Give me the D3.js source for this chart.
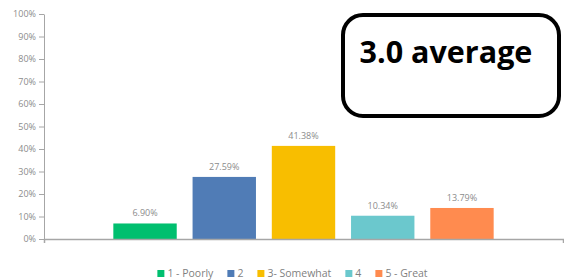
<!DOCTYPE html>
<html>
<head>
<meta charset="utf-8">
<script src="https://cdn.jsdelivr.net/npm/d3@7"></script>
<style>
  body { margin: 0; background: #fff; }
  svg { display: block; }
</style>
</head>
<body>
<svg id="chart" width="564" height="280"></svg>
<script>
const width = 564;
const height = 280;

const categories = ["1 - Poorly", "2", "3- Somewhat", "4", "5 - Great"];
const values = [0.069, 0.2759, 0.4138, 0.1034, 0.1379];
const colors = ["#00bf6f", "#507cb6", "#f8be00", "#6bc8cd", "#ff8b4f"];
const yTicks = [0, 0.1, 0.2, 0.3, 0.4, 0.5, 0.6, 0.7, 0.8, 0.9, 1];
const averageLabel = "3.0 average";

const svg = d3.select("#chart");
const margin = {left: 44, right: 1, top: 14, bottom: 41};

const y = d3.scaleLinear().domain([0, 1]).range([height - margin.bottom, margin.top]);

// one group, five series clustered in the middle (excel style)
const x0 = d3.scaleBand().domain(["all"])
    .range([margin.left, width - margin.right])
    .paddingInner(0).paddingOuter(0.155);
const x1 = d3.scaleBand().domain(categories)
    .range([0, x0.bandwidth()])
    .paddingInner(0.2).paddingOuter(0.1);
const color = d3.scaleOrdinal().domain(categories).range(colors);

const yAxis = svg.append("g")
    .attr("transform", "translate(" + margin.left + ",0)")
    .call(d3.axisLeft(y).tickValues(yTicks).tickFormat(d3.format(".0%"))
        .tickSize(5).tickSizeOuter(0).tickPadding(3));
yAxis.select(".domain").attr("stroke", "#a6a6a6");
yAxis.selectAll(".tick line").attr("stroke", "#a6a6a6");
yAxis.selectAll(".tick text")
    .attr("fill", "#8c8c8c")
    .style("font-family", "'Open Sans', sans-serif")
    .style("font-size", "9px");

const bars = svg.append("g")
    .attr("transform", "translate(" + x0("all") + ",0)");

bars.selectAll("rect").data(categories).enter()
    .append("rect")
    .attr("x", function (d) { return x1(d); })
    .attr("width", x1.bandwidth())
    .attr("y", function (d, i) { return y(values[i]); })
    .attr("height", function (d, i) { return y(0) - y(values[i]); })
    .attr("fill", function (d) { return color(d); });

bars.selectAll("text.lbl").data(categories).enter()
    .append("text")
    .attr("class", "lbl")
    .attr("x", function (d) { return x1(d) + x1.bandwidth() / 2; })
    .attr("y", function (d, i) { return y(values[i]) - 7; })
    .attr("text-anchor", "middle")
    .attr("fill", "#8c8c8c")
    .style("font-family", "'Open Sans', sans-serif")
    .style("font-size", "9px")
    .text(function (d, i) { return (values[i] * 100).toFixed(2) + "%"; });

const xAxis = svg.append("g")
    .attr("transform", "translate(0," + y(0) + ")")
    .call(d3.axisBottom(x0).tickValues([]).tickSizeOuter(4));
xAxis.select(".domain").attr("stroke", "#a6a6a6").attr("stroke-width", 1.5);

// legend
const legend = svg.append("g");
let lx = 0;
categories.forEach(function (c) {
    const item = legend.append("g").attr("transform", "translate(" + lx + ",0)");
    item.append("rect").attr("x", 0).attr("y", -7).attr("width", 7).attr("height", 7)
        .attr("fill", color(c));
    const t = item.append("text").attr("x", 10).attr("y", 0)
        .attr("fill", "#7f7f7f")
        .style("font-family", "'Open Sans', sans-serif")
        .style("font-size", "10.5px")
        .text(c);
    lx += 10 + t.node().getComputedTextLength() + 14;
});
lx -= 14;
legend.attr("transform", "translate(" + (292.5 - lx / 2) + ",277)");

// average callout
svg.append("rect")
    .attr("x", 343).attr("y", 15)
    .attr("width", 216).attr("height", 101)
    .attr("rx", 20).attr("ry", 20)
    .attr("fill", "#fff")
    .attr("stroke", "#000")
    .attr("stroke-width", 4);
svg.append("text")
    .attr("x", 446).attr("y", 63)
    .attr("text-anchor", "middle")
    .attr("fill", "#000")
    .style("font-family", "'Open Sans', sans-serif")
    .style("font-weight", "bold")
    .style("font-size", "30.5px")
    .text(averageLabel);
</script>
</body>
</html>
